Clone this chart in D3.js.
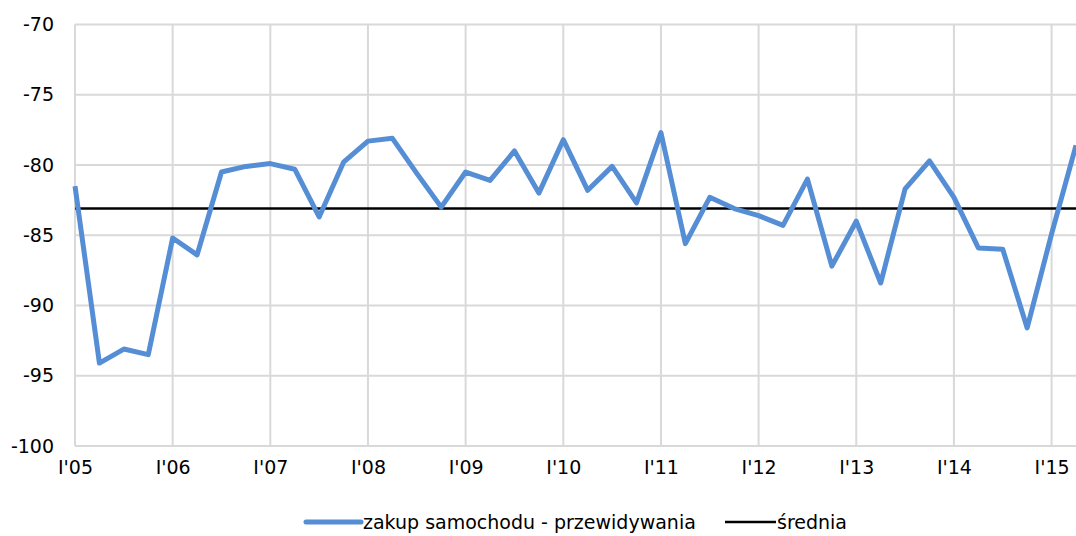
<!DOCTYPE html>
<html>
<head>
<meta charset="utf-8">
<script src="https://cdn.jsdelivr.net/npm/d3@7"></script>
<style>
  html, body { margin: 0; padding: 0; background: #fff; }
  svg { display: block; font-family: "DejaVu Sans", Verdana, sans-serif; }
</style>
</head>
<body>
<svg id="chart" width="1076" height="536"></svg>
<script>
// Quarterly readings, I'05 .. II'15
const quarters = [
  "I'05","II'05","III'05","IV'05","I'06","II'06","III'06","IV'06",
  "I'07","II'07","III'07","IV'07","I'08","II'08","III'08","IV'08",
  "I'09","II'09","III'09","IV'09","I'10","II'10","III'10","IV'10",
  "I'11","II'11","III'11","IV'11","I'12","II'12","III'12","IV'12",
  "I'13","II'13","III'13","IV'13","I'14","II'14","III'14","IV'14",
  "I'15","II'15"
];
const carPurchase = [
  -81.5, -94.1, -93.1, -93.5, -85.2, -86.4, -80.5, -80.1,
  -79.9, -80.3, -83.7, -79.8, -78.3, -78.1, -80.6, -83.0,
  -80.5, -81.1, -79.0, -82.0, -78.2, -81.8, -80.1, -82.7,
  -77.7, -85.6, -82.3, -83.1, -83.6, -84.3, -81.0, -87.2,
  -84.0, -88.4, -81.7, -79.7, -82.3, -85.9, -86.0, -91.6,
  -84.9, -78.6
];
const average = [-83.1];
const yTicks = [-100, -95, -90, -85, -80, -75, -70];
const xTickLabels = ["I'05","I'06","I'07","I'08","I'09","I'10","I'11","I'12","I'13","I'14","I'15"];

const seriesName = "zakup samochodu - przewidywania";
const averageName = "średnia";

const svg = d3.select("#chart");
const plotLeft = 75, plotRight = 1076, plotTop = 24.5, plotBottom = 446;
const fontSize = 19;

const x = d3.scaleLinear().domain([0, quarters.length - 1]).range([plotLeft, plotRight]);
const y = d3.scaleLinear().domain([-100, -70]).range([plotBottom, plotTop]);

const grid = svg.append("g");
// horizontal gridlines
grid.selectAll("line.h").data(yTicks).join("line").attr("class", "h")
  .attr("x1", plotLeft).attr("x2", plotRight)
  .attr("y1", d => y(d)).attr("y2", d => y(d))
  .attr("stroke", "#d9d9d9").attr("stroke-width", 2);
// vertical gridlines at each first quarter
const yearIdx = xTickLabels.map(l => quarters.indexOf(l));
grid.selectAll("line.v").data(yearIdx).join("line").attr("class", "v")
  .attr("x1", d => x(d)).attr("x2", d => x(d))
  .attr("y1", plotTop).attr("y2", plotBottom)
  .attr("stroke", "#d9d9d9").attr("stroke-width", 2);

// y axis labels
const yAxis = d3.axisLeft(y).tickValues(yTicks).tickSize(0).tickPadding(21)
  .tickFormat(d => String(d));
const gy = svg.append("g").attr("transform", `translate(${plotLeft},0)`).call(yAxis);
gy.select(".domain").remove();
gy.selectAll("text").attr("font-size", fontSize).attr("fill", "#000")
  .attr("font-family", "DejaVu Sans, Verdana, sans-serif");

// x axis labels
const xAxis = d3.axisBottom(x).tickValues(yearIdx).tickSize(0).tickPadding(15)
  .tickFormat(d => quarters[d]);
const gx = svg.append("g").attr("transform", `translate(0,${plotBottom})`).call(xAxis);
gx.select(".domain").remove();
gx.selectAll("text").attr("font-size", fontSize).attr("fill", "#000")
  .attr("font-family", "DejaVu Sans, Verdana, sans-serif");

// average line
svg.append("line")
  .attr("x1", plotLeft).attr("x2", plotRight)
  .attr("y1", y(average[0])).attr("y2", y(average[0]))
  .attr("stroke", "#000").attr("stroke-width", 2.5);

// series line
const line = d3.line().x((d, i) => x(i)).y(d => y(d));
svg.append("path").datum(carPurchase)
  .attr("d", line)
  .attr("fill", "none")
  .attr("stroke", "#558ed5")
  .attr("stroke-width", 5)
  .attr("stroke-linejoin", "round");

// legend
const lg = svg.append("g").attr("font-size", fontSize).attr("fill", "#000");
lg.append("line").attr("x1", 306).attr("x2", 361).attr("y1", 522).attr("y2", 522)
  .attr("stroke", "#558ed5").attr("stroke-width", 5).attr("stroke-linecap", "round");
lg.append("text").attr("x", 363).attr("y", 529).text(seriesName);
lg.append("line").attr("x1", 725).attr("x2", 776).attr("y1", 522).attr("y2", 522)
  .attr("stroke", "#000").attr("stroke-width", 2.5);
lg.append("text").attr("x", 777).attr("y", 529).text(averageName);
</script>
</body>
</html>
